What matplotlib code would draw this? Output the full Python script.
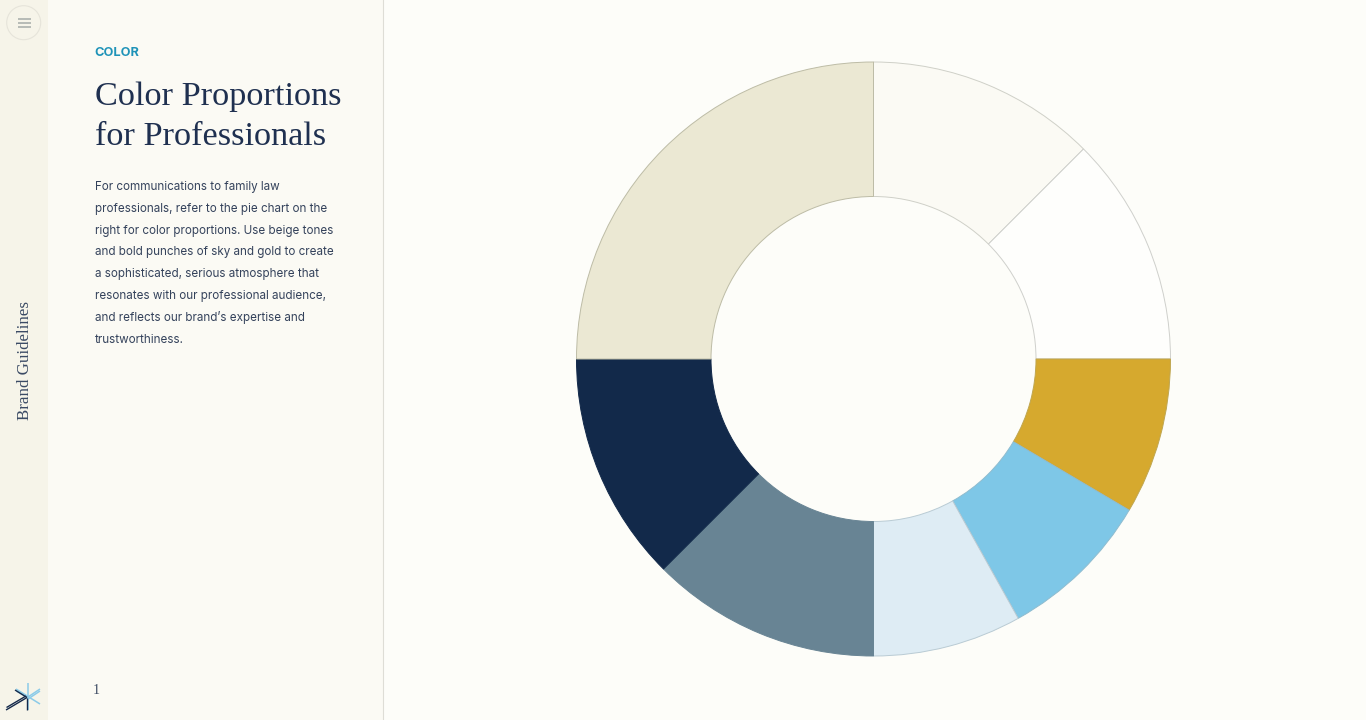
import matplotlib
matplotlib.use("Agg")
import matplotlib.pyplot as plt
from matplotlib.patches import Circle, Rectangle

W, H = 1366, 720

# slices, clockwise from 12 o'clock
shares = [12.5, 12.5, 8.5, 8.4, 8.1, 12.5, 12.5, 25]
slice_colors = ["#FBFAF4", "#FEFEFC", "#D6A92E", "#7EC7E7", "#DEECF4",
                "#688494", "#12294A", "#EBE8D3"]
edge_colors = ["#CFD0C8", "#CFD0CC", "#BFA650", "#8FBCCF", "#B9CBD4",
               "#688494", "#12294A", "#BDBCA6"]

kicker = "COLOR"
title_lines = ["Color Proportions", "for Professionals"]
body_lines = [
    "For communications to family law",
    "professionals, refer to the pie chart on the",
    "right for color proportions. Use beige tones",
    "and bold punches of sky and gold to create",
    "a sophisticated, serious atmosphere that",
    "resonates with our professional audience,",
    "and reflects our brand\u2019s expertise and",
    "trustworthiness.",
]
side_label = "Brand Guidelines"
page_number = "1"

NAVY = "#1F3050"

fig = plt.figure(figsize=(W / 100, H / 100), dpi=100, facecolor="#FDFDF9")

# page furniture, in pixel coordinates
bg = fig.add_axes([0, 0, 1, 1])
bg.set_xlim(0, W)
bg.set_ylim(H, 0)
bg.axis("off")
bg.add_patch(Rectangle((0, 0), 47.5, H, fc="#F6F4E9", ec="none"))
bg.add_patch(Rectangle((47.5, 0), 335.5, H, fc="#FBFAF4", ec="none"))
bg.plot([383, 383], [0, H], color="#DEDDD6", lw=0.8)

# menu button
bg.add_patch(Circle((23.7, 22.7), 17, fc="none", ec="#E6E4DA", lw=0.8))
for y in [18.5, 22.7, 27]:
    bg.plot([17.5, 30.5], [y, y], color="#A6ACA8", lw=1.1, solid_capstyle="butt")

# logo
for x0, y0, x1, y1 in [(28, 683, 28, 710), (16, 689, 40, 704), (16.5, 691, 27, 697),
                       (40, 689, 28, 697), (40, 691, 28, 699)]:
    bg.plot([x0, x1], [y0, y1], color="#8CCBE8", lw=1.1, solid_capstyle="butt")
for x0, y0, x1, y1 in [(6, 710, 27, 697.5), (6.5, 707.5, 26, 696), (15, 690, 27, 697.5), (27, 698, 27, 710)]:
    bg.plot([x0, x1], [y0, y1], color="#14294A", lw=1.0, solid_capstyle="butt")

# text
serif = "Liberation Serif"
bg.text(94.5, 52.5, kicker, color="#1F93B8", fontsize=9.2, fontweight="bold", family="Inter",
        va="center", ha="left")
for y, line in zip([96.5, 136.5], title_lines):
    bg.text(95, y, line, color=NAVY, fontsize=24.7, family=serif, va="center", ha="left")
for i, line in enumerate(body_lines):
    bg.text(95, 187 + i * 21.8, line, color="#34425B", fontsize=8.4, family="Inter",
            va="center", ha="left")
bg.text(25.5, 360, side_label, color="#3A4A64", fontsize=12.2, family=serif, rotation=90,
        va="center", ha="center")
bg.text(96.5, 690, page_number, color="#3C4A62", fontsize=10, family=serif, va="center", ha="center")

# donut
cx, cy, outer, inner = 873.5, 359, 297, 162.5
ax = fig.add_axes([(cx - outer) / W, 1 - (cy + outer) / H, 2 * outer / W, 2 * outer / H])
wedges, _ = ax.pie(shares, colors=slice_colors, startangle=90, counterclock=False, radius=1,
                   wedgeprops=dict(width=1 - inner / outer, linewidth=0.7))
for w, c in zip(wedges, edge_colors):
    w.set_edgecolor(c)
    w.set_clip_on(False)
ax.set_xlim(-1, 1)
ax.set_ylim(-1, 1)
ax.patch.set_visible(False)

fig.savefig("out.png", dpi=100, facecolor=fig.get_facecolor())
